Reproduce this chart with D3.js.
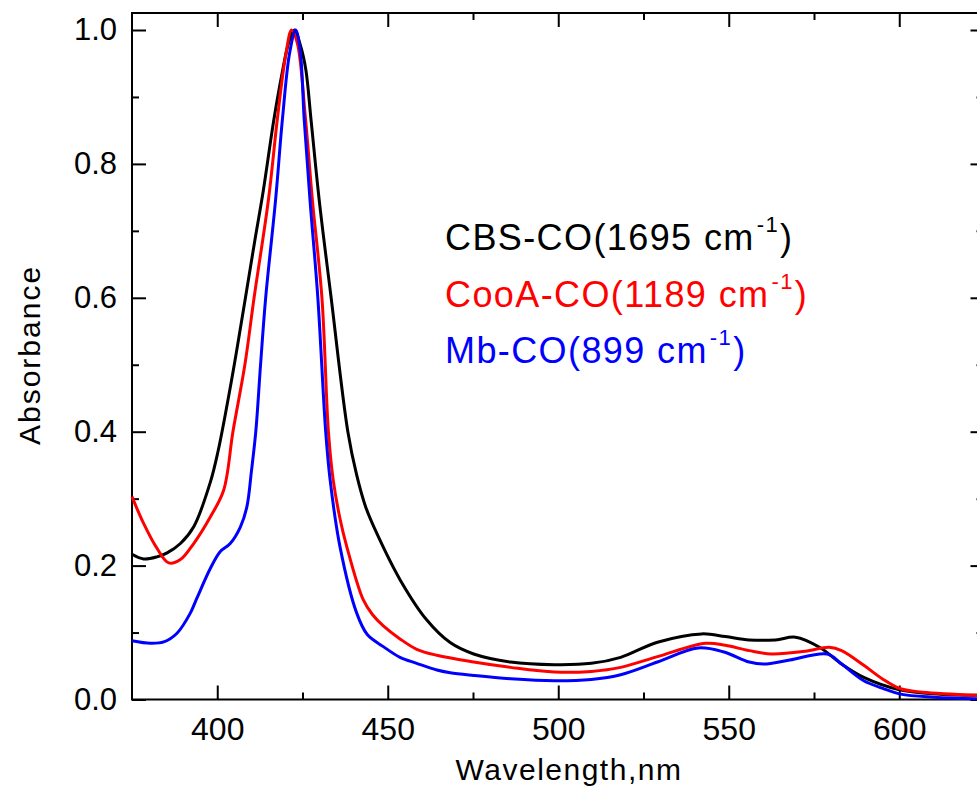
<!DOCTYPE html>
<html>
<head>
<meta charset="utf-8">
<script src="https://cdn.jsdelivr.net/npm/d3@7"></script>
<style>
  html, body { margin: 0; padding: 0; background: #fff; }
  svg { display: block; }
  text { font-family: "Liberation Sans", Arial, sans-serif; }
</style>
</head>
<body>
<svg id="chart" width="977" height="790"></svg>
<script>
// CBS-CO spectrum (black)
const cbsWl = [375, 378.4, 382.3, 385.3, 389.2, 393.1, 398, 400.2, 404.3, 408.1, 411, 413.5, 416.6, 419, 421, 422.6, 424.5, 426, 427.5, 429.9, 433.4, 438.3, 440.9, 443.5, 446.8, 453.6, 461.4, 468.3, 475.2, 486, 498.9, 509.7, 518.3, 529.1, 542.1, 549, 556, 563.7, 569.6, 576.6, 583.1, 589.6, 600.4, 612, 625];
const cbsAbs = [0.217, 0.210, 0.213, 0.219, 0.233, 0.258, 0.325, 0.37, 0.48, 0.595, 0.685, 0.760, 0.866, 0.935, 0.982, 1.0, 0.975, 0.94, 0.866, 0.746, 0.60, 0.40, 0.335, 0.288, 0.248, 0.179, 0.119, 0.085, 0.068, 0.056, 0.052, 0.054, 0.063, 0.0856, 0.098, 0.094, 0.089, 0.089, 0.093, 0.078, 0.053, 0.033, 0.014, 0.008, 0.006];

// CooA-CO spectrum (red)
const cooaWl = [375, 378.4, 382.3, 385.8, 389.2, 393.1, 398, 401.9, 404.6, 408.1, 410.8, 415, 417.6, 420, 421.8, 423.5, 425.9, 427.9, 430.7, 432.6, 434, 436, 438, 442.8, 445.5, 448.7, 453.6, 458.5, 464.4, 475.2, 486, 498.9, 509.7, 518.3, 529.1, 543.2, 549, 556, 562.6, 572.4, 579.5, 583.1, 589.6, 595, 600.4, 606.9, 625];
const cooaAbs = [0.303, 0.263, 0.226, 0.204, 0.209, 0.233, 0.273, 0.313, 0.40, 0.50, 0.60, 0.746, 0.866, 0.96, 1.0, 0.98, 0.866, 0.746, 0.60, 0.40, 0.328, 0.270, 0.228, 0.149, 0.127, 0.110, 0.0905, 0.075, 0.066, 0.056, 0.048, 0.041, 0.042, 0.048, 0.064, 0.084, 0.081, 0.073, 0.068, 0.072, 0.078, 0.073, 0.051, 0.031, 0.016, 0.011, 0.006];

// Mb-CO spectrum (blue)
const mbWl = [375, 380.4, 384.3, 388.2, 392.1, 394, 398, 400.9, 403.8, 406.8, 408.7, 410, 411.3, 412.7, 414.2, 417.1, 419.1, 421.2, 423, 424.3, 425.5, 427.2, 429.5, 431.8, 433.1, 436, 440.9, 444, 448.7, 453.6, 458.5, 464.4, 468.3, 475.2, 486, 498.9, 509.7, 518.3, 529.1, 541, 548.6, 556, 560.3, 567.9, 578.9, 583.1, 589.6, 595, 600.4, 610.2, 625];
const mbAbs = [0.0878, 0.084, 0.086, 0.099, 0.129, 0.151, 0.196, 0.221, 0.233, 0.258, 0.288, 0.34, 0.40, 0.50, 0.60, 0.746, 0.866, 0.965, 1.0, 0.97, 0.866, 0.746, 0.60, 0.40, 0.328, 0.228, 0.129, 0.097, 0.079, 0.063, 0.054, 0.044, 0.040, 0.036, 0.031, 0.028, 0.030, 0.037, 0.056, 0.077, 0.071, 0.056, 0.053, 0.059, 0.068, 0.053, 0.028, 0.017, 0.008, 0.0035, 0.001];

const xMajor = [400, 450, 500, 550, 600];
const xMinor = [425, 475, 525, 575];
const yMajor = [0, 0.2, 0.4, 0.6, 0.8, 1.0];
const yMinor = [0.1, 0.3, 0.5, 0.7, 0.9];

const legendLabels = [
    { name: "CBS-CO(1695 cm", color: "#000000" },
    { name: "CooA-CO(1189 cm", color: "#ff0000" },
    { name: "Mb-CO(899 cm", color: "#0000ff" }
];

const svg = d3.select("#chart");

// plot frame (right edge falls just outside the picture)
const plotLeft = 132, plotRight = 984.5, plotTop = 13, plotBottom = 699.5;
const x = d3.scaleLinear().domain([375, 625]).range([plotLeft, plotRight]);
const y = d3.scaleLinear().domain([0, 1]).range([plotBottom, 30]);

const fmt = d3.format(".1f");

function drawAxis(axis, transform, labels, size) {
    const g = svg.append("g")
        .attr("transform", transform)
        .call(axis);
    g.select(".domain").remove();
    g.selectAll(".tick line").attr("stroke", "#000").attr("stroke-width", 2);
    g.selectAll(".tick text")
        .attr("font-size", size || 31)
        .attr("fill", "#000")
        .style("display", labels ? null : "none");
    return g;
}

// bottom axis
drawAxis(d3.axisBottom(x).tickValues(xMajor).tickSize(-14).tickPadding(18), `translate(0,${plotBottom})`, true, 32);
drawAxis(d3.axisBottom(x).tickValues(xMinor).tickSize(-7), `translate(0,${plotBottom})`, false);
// top axis
drawAxis(d3.axisTop(x).tickValues(xMajor).tickSize(-14), `translate(0,${plotTop})`, false);
drawAxis(d3.axisTop(x).tickValues(xMinor).tickSize(-7), `translate(0,${plotTop})`, false);
// left axis
drawAxis(d3.axisLeft(y).tickValues(yMajor).tickSize(-14).tickPadding(15).tickFormat(fmt), `translate(${plotLeft},0)`, true, 31);
drawAxis(d3.axisLeft(y).tickValues(yMinor).tickSize(-7), `translate(${plotLeft},0)`, false);
// right axis
drawAxis(d3.axisRight(y).tickValues(yMajor).tickSize(-14), `translate(${plotRight},0)`, false);
drawAxis(d3.axisRight(y).tickValues(yMinor).tickSize(-8), `translate(${plotRight},0)`, false);

// frame
svg.append("rect")
    .attr("x", plotLeft).attr("y", plotTop)
    .attr("width", plotRight - plotLeft).attr("height", plotBottom - plotTop)
    .attr("fill", "none").attr("stroke", "#000").attr("stroke-width", 2);

// spectra
const line = d3.line()
    .x(d => x(d[0]))
    .y(d => y(d[1]))
    .curve(d3.curveCatmullRom.alpha(0.5));

const series = [
    { wl: cbsWl, abs: cbsAbs, color: "#000000" },
    { wl: cooaWl, abs: cooaAbs, color: "#ff0000" },
    { wl: mbWl, abs: mbAbs, color: "#0000ff" }
];

svg.append("g")
    .selectAll("path")
    .data(series)
    .join("path")
    .attr("d", s => line(d3.zip(s.wl, s.abs)))
    .attr("fill", "none")
    .attr("stroke", s => s.color)
    .attr("stroke-width", 3)
    .attr("stroke-linejoin", "round");

// legend text
const legend = svg.append("g");
legendLabels.forEach((d, i) => {
    const t = legend.append("text")
        .attr("x", 445)
        .attr("y", 250 + i * 56.5)
        .attr("font-size", 36)
        .attr("letter-spacing", 1.4)
        .attr("fill", d.color);
    t.append("tspan").text(d.name);
    t.append("tspan").attr("dx", 2).attr("dy", -18).attr("font-size", 22).text("-1");
    t.append("tspan").attr("dx", 1).attr("dy", 18).text(")");
});

// axis titles
svg.append("text")
    .attr("x", 569)
    .attr("y", 780)
    .attr("text-anchor", "middle")
    .attr("font-size", 30)
    .attr("letter-spacing", 1.5)
    .text("Wavelength,nm");

svg.append("text")
    .attr("transform", "translate(40,355) rotate(-90)")
    .attr("text-anchor", "middle")
    .attr("font-size", 30)
    .attr("letter-spacing", 2)
    .text("Absorbance");
</script>
</body>
</html>
